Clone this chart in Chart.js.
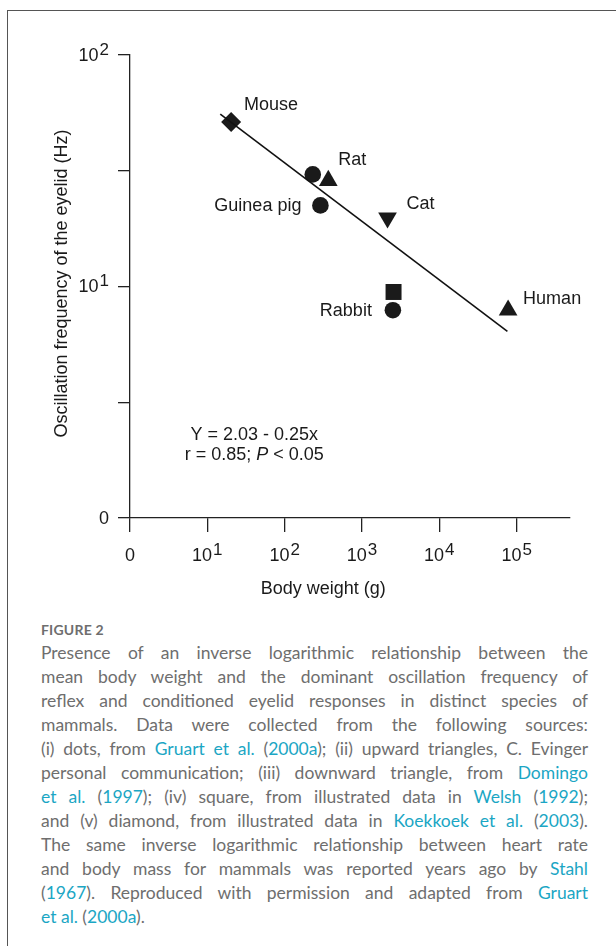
<!DOCTYPE html>
<html>
<head>
<meta charset="utf-8">
<script src="https://cdn.jsdelivr.net/npm/chart.js@4.4.0/dist/chart.umd.min.js"></script>
<style>
  html, body { margin: 0; padding: 0; background: #fff; width: 616px; height: 946px; overflow: hidden; }
  #frame { position: absolute; left: 7px; top: 10px; width: 700px; height: 1000px; border: 1.4px solid #555; box-sizing: border-box; }
  #plot { position: absolute; left: 0; top: 0; width: 616px; height: 610px; }
  #caption { position: absolute; left: 41px; top: 619px; width: 547px; font-family: Lato, "Open Sans", sans-serif; color: #6e6e6e; }
  .fig { font-size: 14px; font-weight: 700; line-height: 22px; letter-spacing: 0.2px; }
  .ln { font-size: 17.5px; line-height: 24px; text-align: justify; text-align-last: justify; }
  .ln.last { text-align-last: left; }
  #caption a { color: #1ba6c4; text-decoration: none; }
</style>
</head>
<body>
<div id="frame"></div>
<div id="plot"><canvas id="eyelid_chart"></canvas></div>
<div id="caption">
  <div class="fig">FIGURE 2</div>
  <div class="ln">Presence of an inverse logarithmic relationship between the</div>
  <div class="ln">mean body weight and the dominant oscillation frequency of</div>
  <div class="ln">reflex and conditioned eyelid responses in distinct species of</div>
  <div class="ln">mammals. Data were collected from the following sources:</div>
  <div class="ln">(i) dots, from <a>Gruart et al.</a> (<a>2000a</a>); (ii) upward triangles, C. Evinger</div>
  <div class="ln">personal communication; (iii) downward triangle, from <a>Domingo</a></div>
  <div class="ln"><a>et al.</a> (<a>1997</a>); (iv) square, from illustrated data in <a>Welsh</a> (<a>1992</a>);</div>
  <div class="ln">and (v) diamond, from illustrated data in <a>Koekkoek et al.</a> (<a>2003</a>).</div>
  <div class="ln">The same inverse logarithmic relationship between heart rate</div>
  <div class="ln">and body mass for mammals was reported years ago by <a>Stahl</a></div>
  <div class="ln">(<a>1967</a>). Reproduced with permission and adapted from <a>Gruart</a></div>
  <div class="ln last"><a>et al.</a> (<a>2000a</a>).</div>
</div>
<script>
// body weight (g) and eyelid oscillation frequency (Hz)
const dotWeight = [231, 290, 2510];
const dotFreq = [30.5, 22.4, 7.9];
const dotLabels = ['', 'Guinea pig', 'Rabbit'];

const upWeight = [367, 77600];
const upFreq = [28.7, 7.9];
const upLabels = ['Rat', 'Human'];

const downWeight = [2140];
const downFreq = [19.8];
const downLabels = ['Cat'];

const squareWeight = [2560];
const squareFreq = [9.47];
const squareLabels = [''];

const diamondWeight = [20.3];
const diamondFreq = [51.4];
const diamondLabels = ['Mouse'];

// regression line end points: Y = 2.03 - 0.25x (log-log)
const fitWeight = [14.7, 76000];
const fitFreq = [55.6, 6.4];

// ticks
const xTickValues = [1, 10, 100, 1000, 10000, 100000];
const xTickBase = ['0', '10', '10', '10', '10', '10'];
const xTickExp = ['', '1', '2', '3', '4', '5'];
const yTickValues = [1, 3.162, 10, 31.62, 100];
const yTickBase = ['0', '', '10', '', '10'];
const yTickExp = ['', '', '1', '', '2'];

const equationLines = ['Y = 2.03 - 0.25x', 'r = 0.85; ', 'P', ' < 0.05'];
const equationWeight = 40.4;
const equationFreq = [2.29, 1.87];

// label placement relative to the marker: dx, dy, align
const labelOffset = {
  'Mouse': [13, -17, 'left'],
  'Rat': [10, -20, 'left'],
  'Guinea pig': [-19, 1, 'right'],
  'Cat': [19, -14, 'left'],
  'Rabbit': [-21, 1, 'right'],
  'Human': [15, -11, 'left']
};

const ink = '#1a1a1a';
const axisColor = '#222';
const baseFont = '18px "Liberation Sans", Arial, sans-serif';
const expFont = '17px "Liberation Sans", Arial, sans-serif';

function points(xs, ys) {
  return xs.map((x, i) => ({ x: x, y: ys[i] }));
}

function markerSet(xs, ys, labels, style, radius, rotation) {
  return {
    data: points(xs, ys),
    speciesLabels: labels,
    pointStyle: style,
    pointRadius: radius,
    pointRotation: rotation,
    pointBackgroundColor: ink,
    pointBorderWidth: 0,
    showLine: false
  };
}

function drawPower(ctx, base, exp, px, py, align) {
  ctx.font = baseFont;
  const wb = ctx.measureText(base).width;
  ctx.font = expFont;
  const we = exp ? ctx.measureText(exp).width + 1 : 0;
  const total = wb + we;
  const left = align === 'right' ? px - total : px - total / 2;
  ctx.textAlign = 'left';
  ctx.textBaseline = 'middle';
  ctx.font = baseFont;
  ctx.fillText(base, left, py);
  if (exp) {
    ctx.font = expFont;
    ctx.fillText(exp, left + wb + 1, py - 6);
  }
}

const textPlugin = {
  id: 'figureText',
  afterDraw(chart) {
    const ctx = chart.ctx;
    const xs = chart.scales.x;
    const ys = chart.scales.y;
    const area = chart.chartArea;
    ctx.save();
    ctx.fillStyle = ink;

    // tick labels
    xTickValues.forEach((v, i) => {
      drawPower(ctx, xTickBase[i], xTickExp[i], xs.getPixelForValue(v), area.bottom + 38, 'center');
    });
    yTickValues.forEach((v, i) => {
      if (yTickBase[i]) {
        drawPower(ctx, yTickBase[i], yTickExp[i], area.left - 21, ys.getPixelForValue(v) + 1, 'right');
      }
    });

    // axis titles
    ctx.font = baseFont;
    ctx.textAlign = 'center';
    ctx.textBaseline = 'middle';
    const xMid = (xs.getPixelForValue(xTickValues[0]) + xs.getPixelForValue(xTickValues[xTickValues.length - 1])) / 2;
    ctx.fillText('Body weight (g)', xMid, area.bottom + 71);
    ctx.save();
    ctx.translate(area.left - 68, (area.top + area.bottom) / 2 - 3);
    ctx.rotate(-Math.PI / 2);
    ctx.fillText('Oscillation frequency of the eyelid (Hz)', 0, 0);
    ctx.restore();

    // species labels
    chart.data.datasets.forEach((ds, di) => {
      if (!ds.speciesLabels) return;
      const meta = chart.getDatasetMeta(di);
      ds.speciesLabels.forEach((name, j) => {
        if (!name) return;
        const el = meta.data[j];
        const off = labelOffset[name];
        ctx.font = baseFont;
        ctx.textAlign = off[2];
        ctx.textBaseline = 'middle';
        ctx.fillText(name, el.x + off[0], el.y + off[1]);
      });
    });

    // regression equation
    const ex = xs.getPixelForValue(equationWeight);
    ctx.font = baseFont;
    ctx.textAlign = 'center';
    ctx.fillText(equationLines[0], ex, ys.getPixelForValue(equationFreq[0]));
    const italic = 'italic ' + baseFont;
    const w1 = ctx.measureText(equationLines[1]).width;
    const w3 = ctx.measureText(equationLines[3]).width;
    ctx.font = italic;
    const w2 = ctx.measureText(equationLines[2]).width;
    let lx = ex - (w1 + w2 + w3) / 2;
    const ly = ys.getPixelForValue(equationFreq[1]);
    ctx.textAlign = 'left';
    ctx.font = baseFont;
    ctx.fillText(equationLines[1], lx, ly);
    ctx.font = italic;
    ctx.fillText(equationLines[2], lx + w1, ly);
    ctx.font = baseFont;
    ctx.fillText(equationLines[3], lx + w1 + w2, ly);
    ctx.restore();
  }
};

Chart.defaults.font.family = '"Liberation Sans", Arial, sans-serif';

const ctx = document.getElementById('eyelid_chart').getContext('2d');
new Chart(ctx, {
  type: 'scatter',
  data: {
    datasets: [
      {
        data: points(fitWeight, fitFreq),
        showLine: true,
        borderColor: '#111',
        borderWidth: 1.6,
        pointRadius: 0
      },
      markerSet(dotWeight, dotFreq, dotLabels, 'circle', 8.3, 0),
      markerSet(upWeight, upFreq, upLabels, 'triangle', 10.8, 0),
      markerSet(downWeight, downFreq, downLabels, 'triangle', 10.8, 180),
      markerSet(squareWeight, squareFreq, squareLabels, 'rect', 11.3, 0),
      markerSet(diamondWeight, diamondFreq, diamondLabels, 'rectRot', 10, 0)
    ]
  },
  options: {
    responsive: true,
    maintainAspectRatio: false,
    animation: false,
    layout: { padding: { top: 55, right: 46, left: 0, bottom: 0 } },
    plugins: { legend: { display: false }, tooltip: { enabled: false } },
    scales: {
      x: {
        type: 'logarithmic',
        min: 1,
        max: 490000,
        afterBuildTicks: s => { s.ticks = xTickValues.map(v => ({ value: v })); },
        afterFit: s => { s.height = 92; },
        ticks: { display: false },
        grid: { drawOnChartArea: false, drawTicks: true, tickLength: 14, color: axisColor, lineWidth: 1.3 },
        border: { color: axisColor, width: 1.3 }
      },
      y: {
        type: 'logarithmic',
        min: 1,
        max: 100,
        afterBuildTicks: s => { s.ticks = yTickValues.map(v => ({ value: v })); },
        afterFit: s => { s.width = 130; },
        ticks: { display: false },
        grid: { drawOnChartArea: false, drawTicks: true, tickLength: 12, color: axisColor, lineWidth: 1.3 },
        border: { color: axisColor, width: 1.3 }
      }
    }
  },
  plugins: [textPlugin]
});
</script>
</body>
</html>
